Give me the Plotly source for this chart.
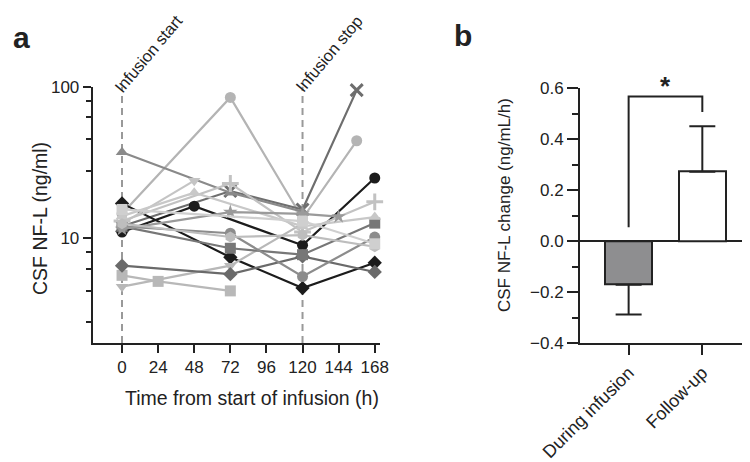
import numpy as np
import plotly.graph_objects as go

# panel a: CSF NF-L per subject (time in h, value in ng/ml)
SUBJECT_TIMES = [
    [0, 72, 120, 156],
    [0, 72, 120, 156],
    [0, 72, 120],
    [0, 72, 120, 168],
    [0, 48, 120, 168],
    [0, 48],
    [0, 72, 120],
    [0, 24, 72],
    [0, 72, 120, 168],
    [0, 72, 120, 168],
    [0, 72, 120, 168],
    [0, 72, 120, 168],
    [0, 48, 120, 168],
    [0, 72, 120, 144],
    [0, 72, 120, 168],
    [0, 120, 168],
]
SUBJECT_VALUES = [
    [14.5, 85, 13.5, 44],
    [12.0, 20.5, 15.5, 95],
    [37, 20, 15],
    [17, 7.5, 4.7, 6.9],
    [11, 16.3, 9.0, 25],
    [12.5, 24],
    [4.8, 6.6, 12.5],
    [5.7, 5.2, 4.5],
    [6.6, 5.8, 7.6, 6.0],
    [12, 8.6, 7.8, 12.6],
    [12, 10.8, 5.6, 10.2],
    [13, 23, 11, 17.4],
    [14, 20, 12, 13.8],
    [11.5, 14.9, 14.5, 13.9],
    [12.5, 10.2, 10.5, 8.8],
    [15.5, 13, 9.2],
]
SUBJECT_SYMBOLS = ['circle', 'x-thin', 'triangle-up', 'diamond', 'circle', 'triangle-down',
                   'triangle-down', 'square', 'diamond', 'square', 'circle', 'cross-thin',
                   'triangle-up', 'star', 'hexagon', 'square']
SUBJECT_COLORS = ['#b4b4b4', '#6e6e6e', '#8a8a8a', '#1c1c1c', '#1c1c1c', '#c4c4c4',
                  '#b8b8b8', '#b8b8b8', '#6a6a6a', '#777777', '#8c8c8c', '#c2c2c2',
                  '#c8c8c8', '#9a9a9a', '#bdbdbd', '#cfcfcf']
X_TICKS = [0, 24, 48, 72, 96, 120, 144, 168]
EVENT_TIMES = [0, 120]
EVENT_LABELS = ['Infusion start', 'Infusion stop']

# panel b: mean change with one-sided error
GROUPS = ['During infusion', 'Follow-up']
CHANGE = [-0.17, 0.273]
ERR_UP = [0, 0.178]
ERR_DOWN = [0.117, 0]
BAR_COLORS = ['#8e8e90', '#ffffff']

INK = '#222222'
FONT = 'Liberation Sans, Arial, sans-serif'

# the page body adds an 8px margin, so the figure is drawn 8px in from the window edge
W, H, OFF = 742, 454, 8


def px(x):
    return (x - OFF) / W


def py(y):
    return 1 - (y - OFF) / H


def label(x, y, text, size, angle=0):
    return dict(x=px(x), y=py(y), xref='paper', yref='paper', text=text, textangle=angle,
                showarrow=False, xanchor='center', yanchor='middle',
                font=dict(size=size, color=INK, family=FONT))


fig = go.Figure()

for t, v, sym, col in zip(SUBJECT_TIMES, SUBJECT_VALUES, SUBJECT_SYMBOLS, SUBJECT_COLORS):
    thin = sym.endswith('-thin')
    fig.add_trace(go.Scatter(
        x=t, y=v, mode='lines+markers', xaxis='x', yaxis='y', cliponaxis=False,
        line=dict(color=col, width=2.2),
        marker=dict(symbol=sym, size=11 if not thin else 12, color=col,
                    line=dict(color=col, width=3 if thin else 0)),
        showlegend=False,
    ))

fig.add_trace(go.Bar(
    x=[0, 1], y=CHANGE, xaxis='x2', yaxis='y2', width=0.64,
    marker=dict(color=BAR_COLORS, line=dict(color=INK, width=2)),
    error_y=dict(type='data', symmetric=False, array=ERR_UP, arrayminus=ERR_DOWN,
                 color=INK, thickness=2, width=13),
    showlegend=False,
))

# significance bracket
fig.add_trace(go.Scatter(
    x=[0, 0, 1, 1], y=[0.055, 0.568, 0.568, 0.507], xaxis='x2', yaxis='y2',
    mode='lines', line=dict(color=INK, width=2), showlegend=False, cliponaxis=False,
))

shapes = []
annotations = []
for t, lab in zip(EVENT_TIMES, EVENT_LABELS):
    shapes.append(dict(type='line', xref='x', yref='y domain', x0=t, x1=t, y0=0, y1=1,
                       line=dict(color='#999999', width=2, dash='7px,5px'), layer='below'))
    # rotated labels: anchors on auto (centre in x, top edge in y), kept inside the svg
    annotations.append(dict(x=t, xref='x', y=py(9), yref='paper', text=lab, textangle=-50,
                            showarrow=False, xshift=26,
                            font=dict(size=16.5, color=INK, family=FONT)))

annotations += [
    label(21, 38, '<b>a</b>', 30),
    label(463, 35, '<b>b</b>', 30),
    label(40, 219, 'CSF NF-L (ng/ml)', 19.5, angle=-90),
    label(252, 398, 'Time from start of infusion (h)', 19.5),
    label(505, 205, 'CSF NF-L change (ng/mL/h)', 17, angle=-90),
    label(665, 86, '<b>*</b>', 26),
]

axis_common = dict(showline=True, linecolor=INK, linewidth=2, ticks='outside', tickwidth=2,
                   tickcolor=INK, showgrid=False, zeroline=False, automargin=False,
                   tickfont=dict(size=17, color=INK, family=FONT))

log_minor = [2.8, 4.5, 6.3, 8.1, 28, 45, 63, 81]

fig.update_layout(
    width=W, height=H,
    margin=dict(l=0, r=0, t=0, b=0, autoexpand=False),
    paper_bgcolor='white', plot_bgcolor='white',
    font=dict(family=FONT, color=INK),
    xaxis=dict(domain=[px(92.7), px(380)], range=[-19.5, 171.5], tickvals=X_TICKS,
               ticklen=8, anchor='y', **axis_common),
    yaxis=dict(domain=[py(343), py(86.7)], type='log', range=[np.log10(2.04), 2],
               tickvals=[10, 100], ticktext=['10', '100'], ticklen=8, anchor='x',
               minor=dict(tickvals=log_minor, ticks='outside', ticklen=5, tickwidth=2, tickcolor=INK),
               **axis_common),
    xaxis2=dict(domain=[px(580), px(748)], range=[-0.66, 1.62], tickvals=[0, 1], ticktext=GROUPS,
                tickangle=-45, ticklen=10, anchor='y2', **axis_common),
    yaxis2=dict(domain=[py(343.3), py(88.3)], range=[-0.4, 0.6], dtick=0.2, tickformat='.1f',
                ticklen=11, anchor='x2',
                minor=dict(dtick=0.1, ticks='outside', ticklen=6, tickwidth=2, tickcolor=INK),
                **axis_common),
    shapes=shapes,
    annotations=annotations,
    bargap=0,
)
fig.update_xaxes(tickfont=dict(size=18), selector=dict(anchor='y2'))
fig.update_yaxes(zeroline=True, zerolinecolor=INK, zerolinewidth=2, selector=dict(anchor='x2'))

fig.write_html('out.html')
